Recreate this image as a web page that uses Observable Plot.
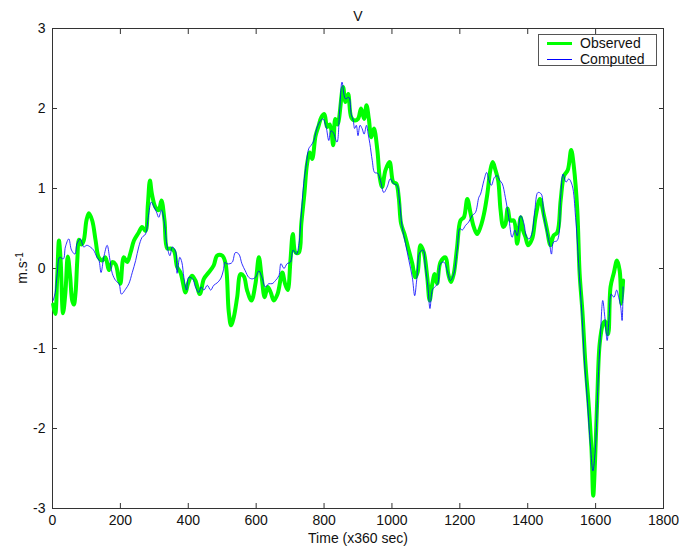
<!DOCTYPE html>
<html>
<head>
<meta charset="utf-8">
<script src="https://cdn.jsdelivr.net/npm/d3@7"></script>
<script src="https://cdn.jsdelivr.net/npm/@observablehq/plot@0.6"></script>
<style>
  body { margin: 0; background: #fff; font-family: "Liberation Sans", Arial, sans-serif; }
  #wrap { position: relative; width: 679px; height: 551px; }
  #legend { position: absolute; left: 538px; top: 34px; width: 117px; height: 30px; border: 1px solid #555; background: #fff; font-size: 14px; color: #111; }
  .lg-row { position: absolute; left: 0; height: 16px; width: 117px; }
  .lg-line { position: absolute; left: 8px; width: 25px; }
  .lg-text { position: absolute; left: 41px; top: 0; line-height: 16px; white-space: nowrap; }
</style>
</head>
<body>
<div id="wrap">
  <div id="chart"></div>
  <div id="legend"></div>
</div>
<script>
// ---- data (time in units of 360 s, velocity in m/s) ----
const observed = [
  [2,-0.45],[8,-0.57],[14,-0.1],[19,0.35],[24,0.1],[31,-0.56],[38,-0.3],[45,0.15],[52,-0.1],[58,-0.4],[63,-0.45],[68,-0.3],[73,0.1],[78,0.36],[85,0.3],[92,0.35],[100,0.6],[107,0.69],[117,0.6],[127,0.35],[136,0.14],[146,0.1],[156,0.14],[166,-0.02],[176,0.08],[186,0.05],[195,-0.13],[200,-0.19],[210,0.14],[220,0.08],[230,0.2],[240,0.35],[254,0.45],[264,0.52],[274,0.47],[281,0.8],[287,1.1],[293,0.93],[303,0.77],[313,0.73],[321,0.85],[330,0.6],[338,0.25],[348,0.25],[358,0.22],[367,0.02],[377,-0.05],[392,-0.3],[399,-0.19],[411,-0.09],[421,-0.15],[434,-0.32],[446,-0.13],[460,-0.05],[475,0.04],[485,0.16],[500,0.16],[510,0.06],[519,-0.53],[526,-0.71],[534,-0.61],[544,-0.36],[554,-0.07],[564,-0.1],[573,-0.27],[586,-0.4],[598,-0.19],[608,0.14],[616,-0.1],[625,-0.36],[634,-0.23],[643,-0.3],[652,-0.4],[663,-0.32],[677,-0.05],[685,-0.19],[693,-0.27],[701,0.1],[708,0.43],[716,0.2],[726,0.2],[733,0.56],[742,0.93],[750,1.31],[758,1.45],[765,1.37],[775,1.66],[783,1.77],[792,1.89],[801,1.93],[809,1.77],[817,1.8],[827,1.54],[833,1.87],[840,1.8],[856,2.27],[863,2.08],[871,2.18],[880,1.89],[890,1.85],[900,1.87],[909,2.0],[918,1.87],[925,2.04],[932,1.87],[939,1.64],[947,1.75],[957,1.48],[964,1.14],[971,1.02],[981,1.23],[993,1.33],[1004,1.08],[1013,1.06],[1020,0.89],[1027,0.56],[1037,0.43],[1047,0.27],[1060,0.06],[1069,-0.11],[1076,-0.04],[1084,0.29],[1094,0.2],[1104,-0.11],[1111,-0.4],[1119,-0.19],[1126,-0.07],[1133,-0.19],[1143,0.08],[1158,0.14],[1166,-0.07],[1174,-0.17],[1182,-0.07],[1192,0.27],[1202,0.6],[1212,0.64],[1222,0.87],[1232,0.68],[1241,0.52],[1251,0.43],[1261,0.52],[1271,0.68],[1281,0.93],[1290,1.23],[1297,1.33],[1305,1.23],[1313,1.1],[1320,0.73],[1328,0.52],[1334,0.55],[1341,0.75],[1349,0.6],[1359,0.6],[1369,0.31],[1379,0.64],[1386,0.48],[1393,0.4],[1401,0.29],[1413,0.37],[1423,0.64],[1436,0.87],[1447,0.68],[1457,0.48],[1467,0.29],[1476,0.41],[1487,0.45],[1497,0.85],[1507,1.16],[1518,1.23],[1528,1.48],[1536,1.27],[1546,0.73],[1553,-0.07],[1561,-0.53],[1570,-1.19],[1580,-1.73],[1588,-2.27],[1593,-2.84],[1598,-2.44],[1605,-1.61],[1612,-0.94],[1622,-0.69],[1628,-0.66],[1637,-0.82],[1644,-0.23],[1654,-0.05],[1663,0.1],[1671,-0.03],[1676,-0.44],[1681,-0.15]
];
const computed = [
  [2,-0.4],[8,-0.3],[14,-0.06],[21,0.14],[32,0.12],[38,0.27],[48,0.37],[56,0.23],[66,0.18],[72,0.31],[82,0.37],[92,0.27],[101,0.29],[111,0.27],[121,0.23],[131,0.14],[137,0.1],[143,-0.05],[151,0.14],[161,0.29],[168,0.14],[176,-0.06],[186,-0.15],[196,-0.19],[203,-0.32],[215,-0.26],[225,-0.19],[235,-0.05],[245,0.1],[254,0.27],[264,0.39],[274,0.43],[282,0.64],[291,0.83],[299,0.77],[306,0.71],[313,0.64],[321,0.73],[330,0.56],[338,0.27],[346,0.16],[353,0.27],[363,0.21],[367,-0.06],[375,0.14],[381,0.08],[387,-0.11],[395,-0.27],[401,-0.11],[413,-0.13],[421,-0.23],[431,-0.3],[438,-0.23],[446,-0.27],[456,-0.21],[466,-0.27],[475,-0.21],[485,-0.18],[495,-0.13],[503,-0.03],[508,0.08],[513,0.06],[523,0.06],[530,0.08],[539,0.2],[549,0.18],[558,0.06],[568,-0.03],[578,-0.11],[588,-0.13],[598,-0.11],[608,-0.03],[617,-0.11],[627,-0.23],[637,-0.19],[647,-0.19],[657,-0.15],[667,-0.09],[673,0.06],[682,0],[691,0.06],[701,0.08],[709,0.23],[719,0.18],[726,0.31],[733,0.68],[740,1.06],[748,1.31],[755,1.5],[762,1.54],[770,1.6],[780,1.77],[790,1.85],[797,1.87],[806,1.77],[814,1.6],[820,1.72],[827,1.7],[838,1.58],[846,1.98],[853,2.33],[863,2.12],[873,2.14],[880,1.93],[886,1.85],[890,1.75],[895,1.79],[900,1.66],[906,1.79],[912,1.75],[918,1.68],[925,1.79],[930,1.68],[935,1.56],[942,1.35],[949,1.2],[958,1.19],[966,1.1],[976,0.95],[986,1.02],[995,1.12],[1005,1.06],[1015,1.04],[1022,0.85],[1030,0.52],[1040,0.31],[1050,0.1],[1060,-0.11],[1067,-0.34],[1073,-0.14],[1082,0.2],[1092,0.23],[1098,0.04],[1106,-0.23],[1112,-0.5],[1119,-0.27],[1126,-0.23],[1135,-0.19],[1143,0.06],[1153,0.08],[1163,-0.03],[1172,-0.15],[1182,-0.07],[1192,0.23],[1200,0.5],[1207,0.48],[1217,0.54],[1226,0.58],[1236,0.66],[1246,0.7],[1256,0.89],[1261,0.93],[1271,1.1],[1279,1.2],[1286,1.1],[1293,1.04],[1302,1.14],[1310,1.16],[1318,1.1],[1325,1.06],[1334,0.89],[1344,0.64],[1354,0.39],[1362,0.48],[1369,0.41],[1379,0.66],[1389,0.56],[1396,0.4],[1404,0.37],[1413,0.45],[1421,0.73],[1430,0.95],[1440,0.93],[1447,0.66],[1457,0.45],[1465,0.29],[1470,0.18],[1476,0.33],[1487,0.35],[1497,0.89],[1504,1.18],[1513,1.08],[1521,1.12],[1531,1.04],[1541,0.64],[1550,0.06],[1560,-0.6],[1567,-1.15],[1575,-1.61],[1585,-2.23],[1592,-2.53],[1599,-2.27],[1607,-1.44],[1614,-0.86],[1621,-0.4],[1627,-0.6],[1634,-0.9],[1640,-0.6],[1646,-0.32],[1654,-0.36],[1662,-0.27],[1668,-0.36],[1674,-0.48],[1678,-0.65],[1681,-0.23]
];
const xTicks = [0, 200, 400, 600, 800, 1000, 1200, 1400, 1600, 1800];
const yTicks = [-3, -2, -1, 0, 1, 2, 3];
const seriesNames = ["Observed", "Computed"];
const seriesColors = ["#00ff00", "#0000ff"];
const titleText = "V";
const xLabel = "Time (x360 sec)";

const toRows = (arr) => arr.map(([t, v]) => ({ t, v }));
const fmt = (d) => String(d);
const axisColor = "#333";

const chart = Plot.plot({
  width: 679,
  height: 551,
  marginLeft: 52,
  marginRight: 16,
  marginTop: 28,
  marginBottom: 43,
  style: { fontSize: "14px", fontFamily: "'Liberation Sans', Arial, sans-serif", color: "#111", background: "#fff" },
  x: { domain: [0, 1800] },
  y: { domain: [-3, 3] },
  marks: [
    Plot.frame({ stroke: axisColor }),
    Plot.axisX({ anchor: "bottom", ticks: xTicks, tickSize: -5, tickPadding: 12, tickFormat: fmt, label: null, stroke: axisColor }),
    Plot.axisX({ anchor: "top", ticks: xTicks, tickSize: -5, tickFormat: () => "", label: null, stroke: axisColor }),
    Plot.axisY({ anchor: "left", ticks: yTicks, tickSize: -5, tickPadding: 12, tickFormat: fmt, label: null, stroke: axisColor }),
    Plot.axisY({ anchor: "right", ticks: yTicks, tickSize: -5, tickFormat: () => "", label: null, stroke: axisColor }),
    Plot.line(toRows(observed), { x: "t", y: "v", stroke: seriesColors[0], strokeWidth: 4, curve: "catmull-rom" }),
    Plot.line(toRows(computed), { x: "t", y: "v", stroke: seriesColors[1], strokeWidth: 1, strokeOpacity: 0.8, curve: "catmull-rom" }),
    Plot.text([titleText], { text: (d) => d, frameAnchor: "top", dy: -17, fontSize: 14 }),
    Plot.text([xLabel], { text: (d) => d, frameAnchor: "bottom", dy: 34, fontSize: 14 })
  ]
});
document.getElementById("chart").appendChild(chart);

// y-axis label with superscript
const svg = d3.select(chart);
const yl = svg.append("text")
  .attr("transform", "translate(27,268) rotate(-90)")
  .attr("text-anchor", "middle")
  .attr("fill", "#111")
  .style("font-size", "14px");
yl.append("tspan").text("m.s");
yl.append("tspan").attr("dy", "-0.45em").style("font-size", "10px").text("-1");

// legend
const legend = document.getElementById("legend");
seriesNames.forEach((name, i) => {
  const row = document.createElement("div");
  row.className = "lg-row";
  row.style.top = (i === 0 ? 0 : 16) + "px";
  const ln = document.createElement("div");
  ln.className = "lg-line";
  const h = i === 0 ? 3 : 1;
  ln.style.height = h + "px";
  ln.style.top = (8 - Math.floor(h / 2)) + "px";
  ln.style.background = seriesColors[i];
  const tx = document.createElement("div");
  tx.className = "lg-text";
  tx.textContent = name;
  row.appendChild(ln);
  row.appendChild(tx);
  legend.appendChild(row);
});
</script>
</body>
</html>
